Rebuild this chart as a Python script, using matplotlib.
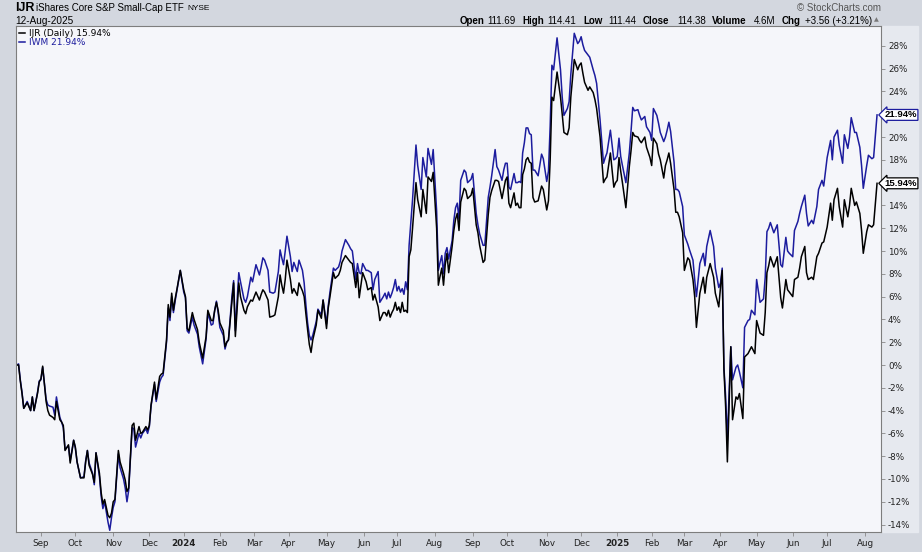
import pandas as pd
import matplotlib
matplotlib.use('Agg')
import matplotlib.pyplot as plt
from matplotlib.patches import Rectangle

W, H = 922, 552

# NYSE closed days in the window (sessions are counted on trading days)
nyse_holidays = ['2023-09-04', '2023-11-23', '2023-12-25', '2024-01-01',
                 '2024-01-15', '2024-02-19', '2024-03-29', '2024-05-27',
                 '2024-06-19', '2024-07-04', '2024-09-02', '2024-11-28',
                 '2024-12-25', '2025-01-01', '2025-01-09', '2025-01-20',
                 '2025-02-17', '2025-04-18', '2025-05-26', '2025-06-19',
                 '2025-07-04']
start_date, end_date = '2023-08-14', '2025-08-12'

# trading session number (0 = 14-Aug-2023) and % change since start
session = [
    0, 1, 2, 3, 4, 6, 8, 9, 10, 12, 13, 14, 15, 17, 18, 19, 21, 22, 23, 25,
    26, 27, 28, 30, 31, 33, 34, 35, 37, 39, 40, 41, 42, 44, 45, 46, 48, 49, 50, 51,
    53, 54, 55, 56, 57, 59, 60, 62, 63, 64, 65, 67, 68, 69, 71, 72, 73, 75, 76, 77,
    78, 80, 81, 83, 84, 85, 87, 88, 89, 90, 91, 92, 93, 95, 97, 98, 99, 100, 102, 103,
    105, 106, 108, 110, 111, 113, 114, 115, 116, 117, 118, 120, 121, 122, 123, 125, 126, 127, 129, 130,
    132, 133, 134, 136, 137, 139, 141, 142, 143, 144, 146, 147, 149, 150, 152, 153, 154, 155, 156, 157,
    159, 160, 161, 163, 164, 166, 167, 168, 169, 170, 171, 172, 174, 175, 177, 178, 180, 181, 182, 184,
    185, 187, 188, 189, 191, 193, 194, 195, 197, 198, 199, 200, 201, 203, 204, 206, 207, 208, 210, 211,
    213, 214, 215, 216, 217, 218, 219, 220, 221, 222, 223, 224, 225, 226, 227, 228, 229, 230, 232, 233,
    235, 236, 238, 239, 241, 242, 244, 245, 246, 247, 248, 249, 250, 251, 253, 254, 255, 256, 257, 258,
    260, 261, 262, 264, 265, 267, 268, 269, 271, 272, 274, 275, 276, 278, 279, 280, 282, 283, 284, 285,
    286, 287, 289, 290, 291, 292, 293, 294, 295, 296, 297, 298, 299, 300, 301, 303, 305, 306, 308, 309,
    310, 311, 312, 314, 316, 317, 318, 320, 321, 322, 324, 326, 327, 328, 329, 330, 332, 333, 335, 336,
    337, 339, 341, 342, 343, 345, 347, 348, 349, 350, 351, 352, 354, 356, 357, 358, 359, 361, 362, 363,
    365, 366, 368, 369, 370, 372, 373, 374, 376, 377, 378, 379, 380, 382, 383, 384, 385, 387, 388, 390,
    391, 393, 394, 395, 397, 399, 400, 401, 403, 405, 406, 408, 409, 410, 411, 412, 413, 415, 416, 418,
    419, 420, 422, 423, 425, 426, 427, 429, 430, 432, 434, 435, 436, 437, 438, 440, 442, 444, 445, 447,
    448, 449, 451, 452, 454, 455, 456, 458, 459, 460, 462, 463, 465, 466, 468, 469, 471, 473, 474, 475,
    477, 478, 480, 481, 483, 484, 485, 487, 488, 490, 491, 492, 494, 495, 497, 498, 500,
]

ijr_pct = [
    0.0, 0.0, -1.4, -2.5, -3.8, -3.3, -4.0, -2.8, -4.0, -2.5, -1.5, -1.2, -0.1, -3.2, -4.0, -4.4, -4.6, -4.8, -3.2, -4.8,
    -5.0, -5.3, -7.5, -7.0, -8.6, -6.6, -7.2, -8.5, -9.9, -9.9, -8.5, -7.5, -8.8, -9.6, -10.3, -7.7, -9.5, -11.2, -12.2, -11.8,
    -13.2, -13.4, -13.0, -12.0, -11.8, -7.5, -8.5, -9.5, -10.1, -11.1, -10.8, -5.3, -5.1, -6.6, -5.4, -6.0, -5.9, -5.4, -5.7, -5.3,
    -3.5, -1.5, -3.0, -1.0, -0.8, -0.7, 2.2, 5.3, 4.2, 6.3, 4.8, 5.8, 6.6, 8.3, 6.6, 6.0, 3.2, 3.0, 4.6, 4.0,
    3.1, 2.0, 0.6, 2.5, 4.8, 3.9, 3.9, 4.8, 5.5, 4.8, 3.7, 3.0, 1.6, 2.0, 2.2, 5.5, 7.2, 2.5, 7.2, 6.0,
    4.8, 4.5, 5.1, 5.7, 5.6, 6.4, 5.7, 6.2, 6.6, 6.4, 5.7, 4.2, 4.3, 4.4, 6.0, 7.9, 7.0, 6.3, 7.5, 9.2,
    7.5, 6.3, 6.7, 6.1, 7.2, 6.5, 6.0, 4.5, 3.1, 1.8, 1.1, 2.2, 3.5, 4.8, 4.1, 5.7, 3.2, 5.0, 6.0, 8.1,
    7.6, 7.9, 8.3, 9.0, 9.6, 9.2, 9.0, 8.9, 6.8, 8.1, 5.9, 7.0, 8.1, 7.3, 6.6, 6.8, 5.7, 6.2, 5.1, 3.9,
    4.6, 4.6, 4.3, 4.8, 4.2, 4.6, 4.9, 5.5, 4.8, 5.1, 4.6, 5.5, 4.7, 4.8, 4.6, 9.5, 10.1, 12.0, 16.0, 14.5,
    13.0, 15.4, 13.3, 16.5, 16.1, 16.9, 12.0, 7.0, 7.8, 8.5, 7.0, 8.8, 9.8, 8.1, 10.4, 11.8, 12.8, 13.3, 11.8, 14.3,
    15.5, 15.3, 14.6, 14.9, 15.5, 12.3, 11.6, 10.5, 9.0, 9.2, 13.2, 14.7, 15.3, 16.2, 16.2, 16.1, 14.6, 15.4, 16.2, 16.5,
    14.2, 13.8, 15.1, 14.0, 14.2, 13.8, 13.8, 16.7, 17.2, 18.0, 18.2, 17.8, 17.7, 14.7, 14.3, 14.4, 15.7, 15.4, 13.6, 14.4,
    18.0, 23.5, 23.2, 25.7, 23.5, 22.0, 20.4, 20.2, 20.8, 23.5, 26.8, 25.9, 26.3, 26.5, 25.6, 24.8, 24.1, 24.4, 23.9, 23.3,
    22.5, 20.0, 16.0, 16.3, 16.5, 18.6, 15.6, 16.0, 16.2, 18.2, 17.0, 16.0, 13.8, 17.4, 18.8, 20.4, 20.1, 20.0, 19.7, 19.5,
    20.0, 19.1, 18.2, 17.5, 19.9, 19.4, 18.5, 18.0, 16.4, 17.5, 18.0, 18.6, 17.7, 15.4, 13.4, 13.4, 13.0, 11.6, 8.3, 9.4,
    9.2, 7.5, 6.0, 3.3, 6.3, 7.7, 6.3, 7.7, 8.9, 7.7, 6.3, 5.1, 6.8, 8.3, -0.4, -3.7, -8.5, 1.6, -4.8, -2.8,
    -3.0, -2.5, -4.7, 0.7, 1.0, 1.3, 1.6, 1.0, 3.9, 2.8, 2.6, 4.6, 8.1, 8.7, 9.5, 8.6, 9.5, 5.9, 5.0, 7.5,
    6.6, 6.4, 6.0, 7.5, 7.7, 8.5, 9.5, 10.4, 8.1, 7.5, 7.7, 7.5, 9.5, 9.8, 10.7, 10.8, 12.1, 14.2, 12.7, 14.5,
    15.5, 13.9, 12.1, 14.5, 13.0, 14.0, 15.5, 14.0, 14.3, 13.3, 11.8, 9.8, 11.7, 12.3, 12.1, 12.3, 15.94,
]

iwm_pct = [
    0.0, 0.1, -1.3, -2.4, -3.8, -3.2, -4.0, -2.8, -4.0, -2.4, -1.4, -1.3, -0.2, -3.0, -3.5, -3.6, -3.7, -4.4, -2.8, -4.6,
    -5.0, -5.5, -7.4, -7.1, -8.4, -6.6, -7.3, -8.5, -9.9, -9.8, -8.4, -7.5, -8.6, -9.5, -10.5, -7.7, -9.8, -11.5, -12.6, -12.0,
    -13.8, -14.5, -13.4, -12.5, -12.0, -7.8, -9.0, -10.0, -10.8, -12.0, -11.0, -5.5, -5.6, -7.2, -6.0, -6.4, -6.0, -5.6, -6.0, -5.4,
    -3.6, -1.7, -3.2, -1.5, -1.1, -0.9, 2.0, 5.0, 3.9, 6.0, 4.6, 5.6, 6.5, 8.3, 6.4, 5.9, 3.0, 2.8, 4.2, 3.5,
    2.7, 1.6, 0.1, 2.3, 4.6, 3.5, 3.6, 4.8, 5.6, 4.6, 3.3, 2.6, 1.4, 2.0, 2.2, 6.0, 7.4, 3.0, 8.1, 7.3,
    5.8, 5.5, 6.0, 7.7, 7.3, 8.8, 7.9, 8.6, 9.4, 9.2, 8.3, 6.4, 6.3, 6.4, 8.2, 10.1, 9.4, 8.8, 10.0, 11.3,
    9.5, 8.2, 9.0, 8.2, 9.2, 8.3, 7.2, 5.3, 3.7, 2.6, 2.2, 2.6, 3.8, 4.9, 4.4, 5.7, 3.6, 5.2, 6.4, 8.5,
    8.3, 8.6, 9.1, 10.0, 11.0, 10.5, 10.2, 10.0, 7.5, 8.9, 8.1, 8.0, 8.9, 8.3, 8.3, 8.1, 6.6, 7.5, 8.2, 5.5,
    6.0, 6.3, 5.8, 6.4, 5.9, 6.3, 6.8, 7.5, 6.5, 6.9, 6.4, 6.7, 6.2, 7.3, 6.6, 10.5, 12.5, 14.5, 19.3, 17.5,
    15.4, 18.2, 16.5, 19.0, 17.6, 18.9, 13.5, 8.3, 9.0, 9.6, 8.0, 9.8, 10.3, 9.3, 10.9, 12.7, 13.8, 14.2, 12.8, 16.2,
    17.1, 16.9, 16.0, 16.3, 16.8, 13.3, 12.3, 11.5, 10.5, 10.5, 14.7, 15.6, 16.6, 18.9, 17.4, 17.1, 16.2, 17.1, 17.7, 17.7,
    15.6, 15.4, 16.8, 16.0, 16.0, 16.1, 16.0, 18.6, 19.5, 20.8, 20.8, 20.3, 20.2, 17.1, 17.1, 16.6, 18.5, 18.1, 16.1, 17.0,
    21.0, 26.3, 25.9, 28.7, 25.9, 23.5, 21.9, 22.5, 23.1, 25.5, 29.1, 28.2, 28.4, 28.8, 28.1, 27.6, 27.2, 27.0, 25.9, 25.4,
    24.7, 21.5, 17.7, 18.2, 18.6, 20.6, 18.0, 18.1, 18.3, 19.9, 18.3, 17.5, 16.0, 18.6, 20.5, 22.6, 22.3, 22.4, 21.9, 21.5,
    21.8, 20.9, 20.4, 19.7, 22.5, 21.9, 21.2, 20.4, 19.6, 20.0, 20.6, 21.3, 20.5, 17.8, 15.4, 15.4, 15.2, 13.9, 11.4, 10.6,
    10.1, 9.2, 7.5, 6.0, 8.9, 9.8, 8.7, 10.4, 11.8, 10.4, 8.5, 6.8, 7.2, 8.5, -0.2, -2.8, -6.6, 1.6, -1.3, -0.2,
    0.0, -0.6, -2.0, 3.3, 3.9, 4.0, 4.8, 4.4, 7.5, 5.5, 5.8, 7.7, 11.7, 12.0, 12.5, 11.6, 12.3, 8.8, 8.6, 11.2,
    10.0, 9.8, 9.5, 11.8, 12.6, 13.3, 13.9, 14.9, 13.3, 12.2, 12.7, 12.4, 13.9, 15.4, 16.2, 15.7, 18.2, 19.7, 18.0, 20.0,
    20.6, 19.3, 17.7, 20.2, 19.0, 20.0, 21.7, 20.4, 20.4, 19.1, 17.5, 15.5, 17.5, 18.4, 18.1, 18.2, 21.94,
]

ijr_color = '#000000'
iwm_color = '#1c1c9e'
HFONT = 'Liberation Sans'


def fx(px):
    return px / W


def fy(py):
    return 1 - py / H


def month_ticks():
    days = pd.bdate_range(start_date, end_date, freq='C', holidays=nyse_holidays)
    pos, labels = [], []
    for i in range(1, len(days)):
        if days[i].month != days[i - 1].month:
            pos.append(i)
            if days[i].month == 1:
                labels.append(str(days[i].year))
            else:
                labels.append(days[i].strftime('%b'))
    return pos, labels


def header(fig):
    fig.text(fx(15), fy(8), 'IJR', fontsize=9, fontweight='bold', va='center',
             family=HFONT)
    fig.text(fx(36), fy(8), 'iShares Core S&P Small-Cap ETF', fontsize=7.0,
             va='center', family=HFONT)
    fig.text(fx(187), fy(8.5), 'NYSE', fontsize=6.0, va='center', family=HFONT)
    fig.text(fx(15), fy(20.5), '12-Aug-2025', fontsize=7.2, va='center',
             family=HFONT)

    parts = [(460, 'Open', True), (487, '111.69', False), (522, 'High', True),
             (547, '114.41', False), (583, 'Low', True), (608, '111.44', False),
             (643, 'Close', True), (677, '114.38', False), (712, 'Volume', True),
             (754, '4.6M', False), (782, 'Chg', True), (805, '+3.56 (+3.21%)', False)]
    for x, s, bold in parts:
        fig.text(fx(x), fy(20.5), s, fontsize=7.0, va='center', family=HFONT,
                 fontweight='bold' if bold else 'normal')
    fig.text(fx(874), fy(20), '\u25b2', fontsize=4.5, va='center', color='#777777')
    fig.text(fx(881), fy(8), '\u00a9 StockCharts.com', fontsize=7, va='center',
             ha='right', color='#555555', family=HFONT)


def main():
    fig = plt.figure(figsize=(W / 100, H / 100), dpi=100, facecolor='#d3d7df')
    strip = Rectangle((fx(881), fy(532)), (918 - 881) / W, 506 / H,
                      transform=fig.transFigure, color='#e6e9ef', zorder=-5)
    fig.patches.append(strip)

    ax = fig.add_axes([fx(16), fy(532), (881 - 16) / W, (532 - 26) / H])
    ax.set_zorder(2)
    ax.set_facecolor('#f5f6fa')

    l_iwm, = ax.plot(session, iwm_pct, color=iwm_color, lw=1.1, label='IWM 21.94%')
    l_ijr, = ax.plot(session, ijr_pct, color=ijr_color, lw=1.1, label='IJR (Daily) 15.94%')

    ax.set_xlim(-0.5, 502.3)
    ax.set_ylim(-14.65, 29.74)

    # the 22% and 16% labels sit under the last-value tags
    hidden = (22, 16)
    ax.yaxis.tick_right()
    yt = list(range(-14, 29, 2))
    ax.set_yticks(yt)
    ax.set_yticklabels(['' if v in hidden else '%d%%' % v for v in yt])

    pos, labels = month_ticks()
    ax.set_xticks(pos)
    ax.set_xticklabels(labels)
    for t in ax.get_xticklabels():
        if t.get_text().isdigit():
            t.set_fontweight('bold')
            t.set_fontsize(7.3)

    ax.tick_params(axis='both', labelsize=6.3, labelcolor='#222222', length=3,
                   width=0.6, pad=2, color='#888888')
    for sp in ax.spines.values():
        sp.set_color('#7d7d7d')
        sp.set_linewidth(0.8)

    ax.legend(handles=[l_ijr, l_iwm], loc='upper left', frameon=False,
              fontsize=6.5, handlelength=0.7, handletextpad=0.4,
              borderaxespad=0.1, labelspacing=0.05, borderpad=0.2,
              labelcolor='linecolor')

    for vals, c in ((iwm_pct, iwm_color), (ijr_pct, ijr_color)):
        ax.annotate('%.2f%%' % vals[-1], xy=(1, vals[-1]),
                    xycoords=('axes fraction', 'data'), xytext=(2.5, 0),
                    textcoords='offset points', ha='left', va='center',
                    fontsize=6.8, fontweight='bold', color='black', family=HFONT,
                    bbox=dict(boxstyle='larrow,pad=0.1', fc='white', ec=c, lw=0.9),
                    annotation_clip=False, zorder=10)

    header(fig)
    fig.savefig('out.png', dpi=100, facecolor=fig.get_facecolor())


if __name__ == '__main__':
    main()
